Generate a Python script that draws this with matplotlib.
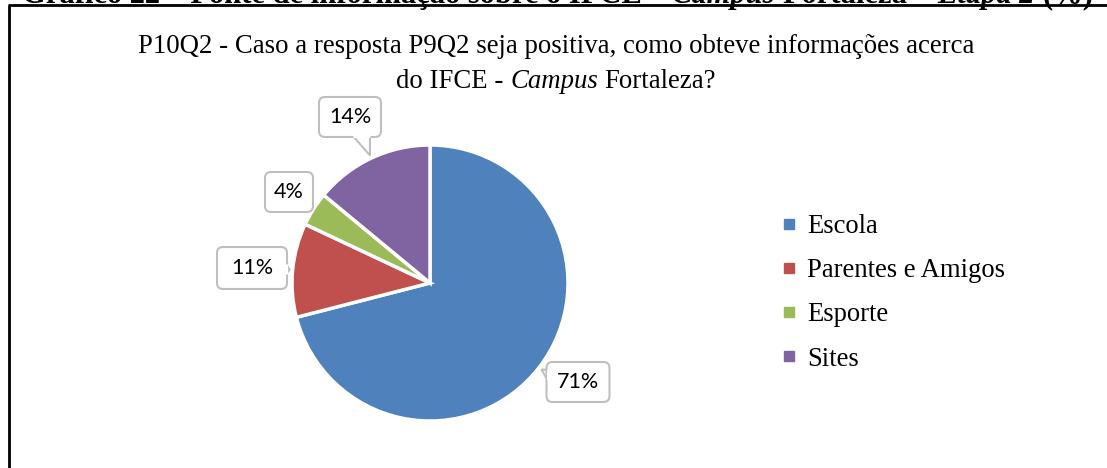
import matplotlib
matplotlib.use('Agg')
import matplotlib.pyplot as plt
import numpy as np
from matplotlib.patches import FancyBboxPatch, Polygon, Rectangle
from matplotlib.lines import Line2D

# data
categories = ['Escola', 'Parentes e Amigos', 'Esporte', 'Sites']
values = [71, 11, 4, 14]
colors = ['#4F81BD', '#C0504D', '#9BBB59', '#8064A2']

W, H = 1107, 468
fig = plt.figure(figsize=(W / 100, H / 100), dpi=100)
ax = fig.add_axes([0, 0, 1, 1])

# pie, everything in pixel coords (y up)
cx, cy, R = 430, H - 283, 138
ax.pie(values, colors=colors, startangle=90, counterclock=False,
       center=(cx, cy), radius=R,
       wedgeprops=dict(edgecolor='white', linewidth=2.5))
ax.set_xlim(0, W)
ax.set_ylim(0, H)
ax.set_aspect('auto')
ax.axis('off')

renderer = fig.canvas.get_renderer()


def rich_line(x, y, parts, size, weight='normal', ha='center', clip=None):
    # parts: list of (text, italic)
    texts = []
    widths = []
    for s, it in parts:
        t = ax.text(0, y, s, fontsize=size, family='Liberation Serif',
                    style='italic' if it else 'normal', weight=weight,
                    va='baseline', ha='left', zorder=3)
        if clip is not None:
            t.set_clip_path(clip)
        texts.append(t)
    sp = ax.text(0, 0, 'a a', fontsize=size, family='Liberation Serif', weight=weight)
    sp2 = ax.text(0, 0, 'aa', fontsize=size, family='Liberation Serif', weight=weight)
    space = sp.get_window_extent(renderer).width - sp2.get_window_extent(renderer).width
    sp.remove()
    sp2.remove()
    for t in texts:
        widths.append(t.get_window_extent(renderer).width)
    total = sum(widths) + space * (len(texts) - 1)
    start = x - total / 2 if ha == 'center' else x
    for t, w in zip(texts, widths):
        t.set_x(start)
        start += w + space


# caption above frame (cut off by the page edge)
cap_clip = Rectangle((0, H - 4), W, 4, transform=ax.transData)
rich_line(W / 2 + 4, H - 3.3,
          [('Gráfico 22 – Fonte de informação sobre o IFCE –', False),
           ('Campus', True), ('Fortaleza –', False), ('Etapa 2', True), ('(%)', False)],
          22, weight='bold', clip=cap_clip)

# frame
ax.plot([8.5, 8.5], [0, H - 5], color='black', lw=2, solid_capstyle='butt', zorder=4)
ax.plot([7.5, W], [H - 5, H - 5], color='black', lw=2, solid_capstyle='butt', zorder=4)

# title
rich_line(556, H - 53,
          [('P10Q2 - Caso a resposta P9Q2 seja positiva, como obteve informações acerca', False)], 19.3)
rich_line(556, H - 88,
          [('do IFCE -', False), ('Campus', True), ('Fortaleza?', False)], 19.3)

# callout labels: box center, width, height, tail side
boxes = [(578, 382, 63, 40, 'left'),
         (252, 268, 70, 42, 'right'),
         (289, 192, 48, 40, None),
         (350, 117, 62, 40, 'bottom')]
fracs = np.array(values) / sum(values)
cum = np.cumsum(fracs) - fracs / 2
for v, f, (bx, by, bw, bh, side) in zip(values, cum, boxes):
    ang = np.deg2rad(90 - 360 * f)
    tip = (cx + (R + 3) * np.cos(ang), cy + (R + 3) * np.sin(ang))
    byy = H - by
    if side == 'left':
        base = [(bx - bw / 2 + 1, byy + 12), (bx - bw / 2 + 1, byy + 2)]
    elif side == 'right':
        base = [(bx + bw / 2 - 1, byy + 4), (bx + bw / 2 - 1, byy - 6)]
    elif side == 'bottom':
        base = [(bx + 3, byy - bh / 2 + 1), (bx + 20, byy - bh / 2 + 1)]
    else:
        base = None
    if base is not None:
        ax.add_patch(Polygon([base[0], tip, base[1]], closed=True,
                             facecolor='white', edgecolor='#BFBFBF', lw=1.5, zorder=4))
    ax.add_patch(FancyBboxPatch((bx - bw / 2 + 6, byy - bh / 2 + 6), bw - 12, bh - 12,
                                boxstyle='round,pad=6', facecolor='white',
                                edgecolor='#BFBFBF', lw=1.5, zorder=5))
    if base is not None:
        # hide the box edge under the tail base
        ax.plot([base[0][0], base[1][0]], [base[0][1], base[1][1]],
                color='white', lw=2.2, zorder=6, solid_capstyle='butt')
    ax.text(bx, byy, f'{v}%', fontsize=15.5, family='Lato', ha='center', va='center',
            color='black', zorder=7)

# legend
handles = [Line2D([], [], marker='s', linestyle='none', markersize=6.5,
                  markerfacecolor=c, markeredgecolor=c) for c in colors]
leg = ax.legend(handles, categories, loc='upper left',
                bbox_to_anchor=(782 / W, (H - 214) / H),
                frameon=False, prop={'family': 'Liberation Serif', 'size': 19.2},
                handlelength=0.5, handletextpad=0.45, labelspacing=0.72,
                borderpad=0, borderaxespad=0)

fig.savefig('out.png', dpi=100)
